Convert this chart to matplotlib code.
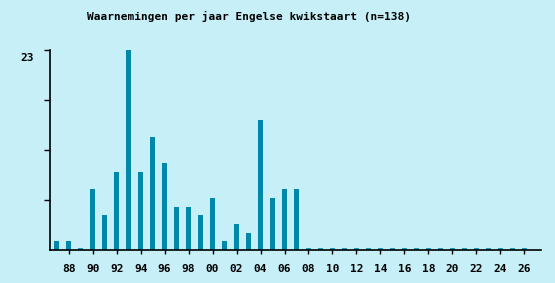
import matplotlib
matplotlib.use("Agg")
from matplotlib import pyplot as plt
from matplotlib.transforms import ScaledTranslation
import numpy as np

# observations per year, 1987 - 2026
years = list(range(1987, 2027))
counts = [1, 1, 0, 7, 4, 9, 23, 9, 13, 10,
          5, 5, 4, 6, 1, 3, 2, 15, 6, 7,
          7, 0, 0, 0, 0, 0, 0, 0, 0, 0,
          0, 0, 0, 0, 0, 0, 0, 0, 0, 0]
title = "Waarnemingen per jaar Engelse kwikstaart (n=138)"
ymax = 23

bg = "#c6eff8"
bar_col = "#0088a8"
stub_col = "#1a9bb8"
font = dict(family="DejaVu Sans Mono", fontweight="bold", fontsize=8)

fig = plt.figure(figsize=(5.55, 2.83), dpi=100, facecolor=bg)
ax = fig.add_axes([50 / 555, 1 - 250 / 283, 490.7 / 555, 200 / 283])
ax.set_facecolor(bg)

x = np.array(years)
y = np.array(counts)
ax.bar(x[y > 0], y[y > 0], width=0.42, color=bar_col, zorder=2)
# empty years are drawn as a thin stub on the axis
ax.bar(x[y == 0], 0.2, width=0.42, color=stub_col, zorder=2)

ax.set_xlim(1986.44, 2027.37)
ax.set_ylim(0, ymax)

for s in ("top", "right"):
    ax.spines[s].set_visible(False)
ax.spines["left"].set_linewidth(1.2)
ax.spines["bottom"].set_linewidth(1.2)

xt = years[1::2]
ax.set_xticks(xt)
ax.set_xticklabels(["%02d" % (v % 100) for v in xt], **font)
ax.tick_params(axis="x", length=3, width=1, pad=7)

ax.set_yticks([ymax])
ax.set_yticklabels([str(ymax)], va="top", **font)
ax.set_yticks([ymax * 0.25, ymax * 0.5, ymax * 0.75], minor=True)
ax.tick_params(axis="y", which="both", length=4, width=1, pad=7.5)
for lab in ax.get_yticklabels():
    lab.set_transform(lab.get_transform()
                      + ScaledTranslation(0, -0.03, fig.dpi_scale_trans))

fig.text(249 / 555, 1 - 16 / 283, title, ha="center", va="center", **font)

fig.savefig("out.png", dpi=100, facecolor=bg)
